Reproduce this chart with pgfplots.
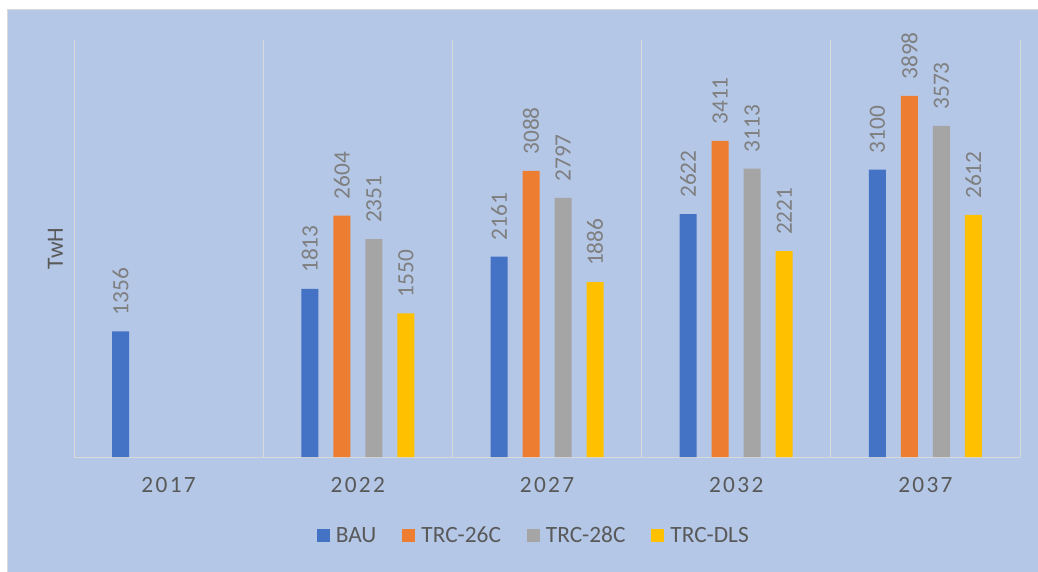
\documentclass[border=0pt]{standalone}
\usepackage{fontspec}
\setmainfont{Carlito}
\usepackage{pgfplots}
\pgfplotsset{compat=1.18}
\definecolor{bg}{HTML}{B4C7E7}
\definecolor{gridgray}{HTML}{D9D9D9}
\definecolor{txt}{HTML}{595959}
\definecolor{lbl}{HTML}{7F7F7F}
\definecolor{cBAU}{HTML}{4472C4}
\definecolor{c26}{HTML}{ED7D31}
\definecolor{c28}{HTML}{A5A5A5}
\definecolor{cDLS}{HTML}{FFC000}
\newcommand{\ff}{\fontsize{17.5pt}{20pt}\selectfont}
\begin{document}
\begin{tikzpicture}
\useasboundingbox (0,0) rectangle (778.5pt,428.25pt);
\fill[bg] (5.25pt,-2pt) rectangle (782pt,420.75pt);
\draw[gridgray, line width=0.75pt] (5.25pt,-2pt) -- (5.25pt,420.75pt) -- (782pt,420.75pt);
\begin{axis}[
  at={(55.5pt,85.5pt)}, anchor=south west,
  scale only axis, width=709.5pt, height=312.75pt,
  xmin=-0.5, xmax=4.5, ymin=0, ymax=4500,
  axis x line*=bottom, axis y line*=left,
  x axis line style={gridgray, line width=0.75pt, -},
  y axis line style={draw=none},
  xtick={0,1,2,3,4},
  xticklabels={2017,2022,2027,2032,2037},
  major tick length=0pt, minor tick length=0pt,
  minor xtick={-0.5,0.5,1.5,2.5,3.5,4.5},
  xminorgrids=true, xmajorgrids=false, ymajorgrids=false,
  minor grid style={gridgray, line width=0.75pt},
  ytick=\empty,
  xticklabel style={font=\ff\addfontfeature{LetterSpace=10}, text=txt, inner sep=0pt, yshift=-14.8pt},
  ylabel={TwH},
  ylabel style={at={(axis description cs:-0.0116,0.5)}, anchor=south, inner sep=0pt, font=\ff, text=txt},
  ybar=11.25pt, bar width=12.75pt,
  nodes near coords={\pgfmathprintnumber[assume math mode=true, 1000 sep={}, fixed, precision=0]{\pgfplotspointmeta}},
  every node near coord/.append style={rotate=90, anchor=west, inner xsep=12pt, inner ysep=0pt, font=\ff, text=lbl},
  legend columns=4,
  legend style={at={(axis description cs:0.485,-0.1894)}, anchor=center, draw=none, fill=none,
    font=\ff, text=txt, nodes={inner sep=0pt},
    /tikz/every odd column/.append style={column sep=4.5pt},
    /tikz/every even column/.append style={column sep=19.5pt}},
  legend image code/.code={\fill[#1] (0pt,-4.875pt) rectangle (9.75pt,4.875pt);},
]
\addplot[draw=none, fill=cBAU] coordinates {(0,1356) (1,1813) (2,2161) (3,2622) (4,3100)};
\addplot[draw=none, fill=c26] coordinates {(1,2604) (2,3088) (3,3411) (4,3898)};
\addplot[draw=none, fill=c28] coordinates {(1,2351) (2,2797) (3,3113) (4,3573)};
\addplot[draw=none, fill=cDLS] coordinates {(1,1550) (2,1886) (3,2221) (4,2612)};
\legend{BAU,TRC-26C,TRC-28C,TRC-DLS}
\end{axis}
\end{tikzpicture}
\end{document}
